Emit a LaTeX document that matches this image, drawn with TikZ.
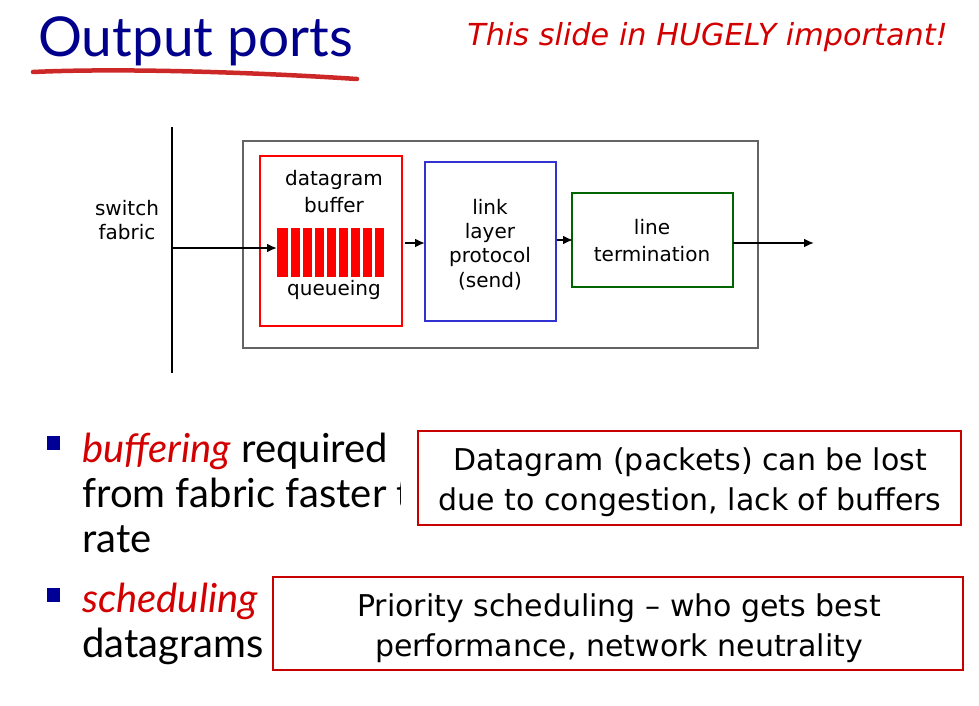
\documentclass[tikz,border=0pt]{standalone}
\usepackage{fontspec}
\setmainfont{Lato}
\newfontfamily\tahoma{DejaVu Sans}
\usetikzlibrary{arrows.meta}

\definecolor{titleblue}{RGB}{0,0,140}
\definecolor{bulletblue}{RGB}{0,0,150}
\definecolor{alertred}{RGB}{210,0,0}
\definecolor{strokered}{RGB}{205,40,40}
\definecolor{noteborder}{RGB}{200,0,0}
\definecolor{bufred}{RGB}{255,0,0}
\definecolor{linkblue}{RGB}{50,50,210}
\definecolor{termgreen}{RGB}{0,100,0}
\definecolor{framegray}{RGB}{100,100,100}

\begin{document}
\begin{tikzpicture}[x=1pt,y=-1pt,
  lbl/.style={font=\tahoma\fontsize{20}{22}\selectfont, inner sep=0pt, anchor=base, align=center},
  flow/.style={draw=black, line width=2.5pt, -{Latex[length=10pt,width=9pt]}},
  bodytext/.style={font=\fontsize{40}{44}\selectfont, inner sep=0pt, anchor=base west},
  notebox/.style={draw=noteborder, line width=2.5pt, fill=white},
  notetext/.style={font=\tahoma\fontsize{30}{36}\selectfont, inner sep=0pt, anchor=base}]
\useasboundingbox (0,0) rectangle (979,706);

% ---------- heading ----------
\node[anchor=base west, inner sep=0pt, text=titleblue,
      font=\fontsize{55}{60}\selectfont] (title) at (38,57) {Output ports};
\draw[strokered, line width=4.5pt, line cap=round]
  (33,72) .. controls (120,68) and (250,72) .. (357,79);
\node[anchor=base east, inner sep=0pt, text=alertred,
      font=\tahoma\itshape\fontsize{30.3}{36}\selectfont] (warn) at (948,46)
  {This slide in HUGELY important!};

% ---------- output port block diagram ----------
\coordinate (fabtop) at (172,127);
\coordinate (fabbot) at (172,373);
\draw[black, line width=2.5pt] (fabtop) -- (fabbot);
\node[lbl] (sw1) at (127,215) {switch};
\node[lbl] (sw2) at (127,239) {fabric};

\draw[framegray, line width=2pt] (243,141) rectangle (758,348);
\draw[bufred, line width=2.5pt] (260,156) rectangle (402,326);
\node[lbl] (dg) at (334,185) {datagram};
\node[lbl] (bf) at (334,212) {buffer};
\node[lbl] (qu) at (334,295) {queueing};
% queue slots
\fill[bufred] (277,228) rectangle (288,277);
\foreach \i in {0,...,7}
  \fill[bufred] ({291+12*\i},228) rectangle ({300+12*\i},277);
\coordinate (fabout) at (172,248);
\coordinate (queueW) at (277,248);
\coordinate (bufE) at (405,243);

\draw[linkblue, line width=2.5pt] (425,162) rectangle (556,321);
\coordinate (linkW) at (425,243);
\coordinate (linkE) at (557,240);
\node[lbl] (l1) at (490,214) {link};
\node[lbl] (l2) at (490,238) {layer};
\node[lbl] (l3) at (490,262) {protocol};
\node[lbl] (l4) at (490,287) {(send)};

\draw[termgreen, line width=2.5pt] (572,193) rectangle (733,287);
\coordinate (termW) at (573,240);
\coordinate (termE) at (733,243);
\coordinate (outE) at (814,243);
\node[lbl] (t1) at (652,234) {line};
\node[lbl] (t2) at (652,261) {termination};

\draw[flow] (fabout) -- (queueW);
\draw[flow] (bufE) -- (linkW);
\draw[flow] (linkE) -- (termW);
\draw[flow] (termE) -- (outE);

% ---------- bullets ----------
\fill[bulletblue] (47,436) rectangle (60,450);
\node[bodytext] (b1a) at (82,462) {\textcolor{alertred}{\textit{buffering}} required};
\node[bodytext] (b1b) at (82,507) {from fabric faster t};
\node[bodytext] (b1c) at (82,552) {rate};
\fill[bulletblue] (47,588) rectangle (60,602);
\node[bodytext] (b2a) at (82,612) {\textcolor{alertred}{\textit{scheduling}}};
\node[bodytext] (b2b) at (82,657) {datagrams};

% ---------- callouts (white backing reaches a little past the frame) ----------
\fill[white] (400.5,429) rectangle (963,527);
\draw[notebox] (418,431) rectangle (961,525);
\node[notetext] (n1a) at (690,470) {Datagram (packets) can be lost};
\node[notetext] (n1b) at (690,510) {due to congestion, lack of buffers};

\draw[notebox] (273,577) rectangle (963,670);
\node[notetext] (n2a) at (619,616) {Priority scheduling – who gets best};
\node[notetext] (n2b) at (619,656) {performance, network neutrality};
\end{tikzpicture}
\end{document}
